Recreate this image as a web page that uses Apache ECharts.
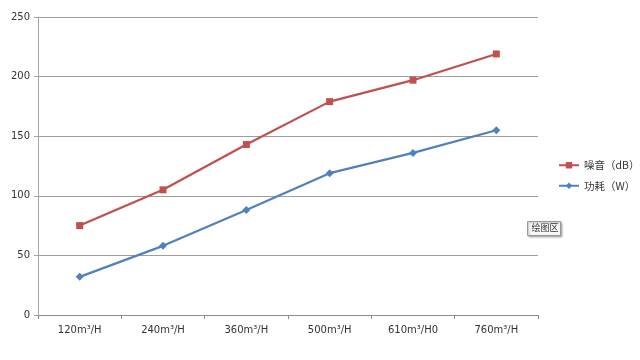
<!DOCTYPE html>
<html><head><meta charset="utf-8">
<script src="https://cdn.jsdelivr.net/npm/echarts@6/dist/echarts.min.js"></script>
<style>html,body{margin:0;padding:0;background:#fff}#c{width:640px;height:360px}</style>
</head><body><div id="c"></div>
<script>
const categories = ['120m³/H','240m³/H','360m³/H','500m³/H','610m³/H0','760m³/H'];
const noise = [75, 105, 143, 179, 197, 219];
const power = [32, 58, 88, 119, 136, 155];
const yTicks = [0, 50, 100, 150, 200, 250];

const chart = echarts.init(document.getElementById('c'));
chart.setOption({
  animation: false,
  backgroundColor: '#fff',
  grid: {left: 38, right: 102, top: 17, bottom: 45},
  xAxis: {
    type: 'category', data: categories, boundaryGap: true,
    axisLine: {lineStyle: {color: '#8c8c8c'}},
    axisTick: {show: true, lineStyle: {color: '#8c8c8c'}, length: 4},
    axisLabel: {color: '#333', fontSize: 10, fontFamily: 'DejaVu Sans', margin: 10}
  },
  yAxis: {
    type: 'value', min: yTicks[0], max: yTicks[yTicks.length-1], interval: 50,
    axisLine: {show: true, lineStyle: {color: '#a6a6a6'}},
    axisTick: {show: true, length: 4, lineStyle: {color: '#a6a6a6'}},
    splitLine: {lineStyle: {color: '#9d9d9d'}},
    axisLabel: {color: '#333', fontSize: 10, fontFamily: 'DejaVu Sans', margin: 8}
  },
  legend: {
    orient: 'vertical', left: 553, top: 155, itemWidth: 20, itemHeight: 8, itemGap: 10,
    textStyle: {fontSize: 10.5, color: '#333', fontFamily: 'Noto Sans CJK SC'},
    data: ['噪音（dB）','功耗（W）']
  },
  series: [
    {name: '噪音（dB）', type: 'line', data: noise, symbol: 'rect', symbolSize: 7,
     itemStyle: {color: '#C0504D'}, lineStyle: {color: '#C0504D', width: 2.2}},
    {name: '功耗（W）', type: 'line', data: power, symbol: 'diamond', symbolSize: 8,
     itemStyle: {color: '#4F81BD'}, lineStyle: {color: '#4F81BD', width: 2.2}}
  ],
  graphic: [{
    type: 'group', left: 527, top: 221,
    children: [
      {type: 'rect', shape: {x: 0, y: 0, width: 33, height: 14},
       style: {fill: '#f7f7f7', stroke: '#9a9a9a', lineWidth: 1, shadowBlur: 2, shadowColor: 'rgba(0,0,0,0.3)', shadowOffsetX: 1, shadowOffsetY: 1}},
      {type: 'text', x: 4, y: 2, style: {text: '绘图区', fontSize: 9, fill: '#333', fontFamily: 'Noto Sans CJK SC'}}
    ]
  }]
});
</script></body></html>
